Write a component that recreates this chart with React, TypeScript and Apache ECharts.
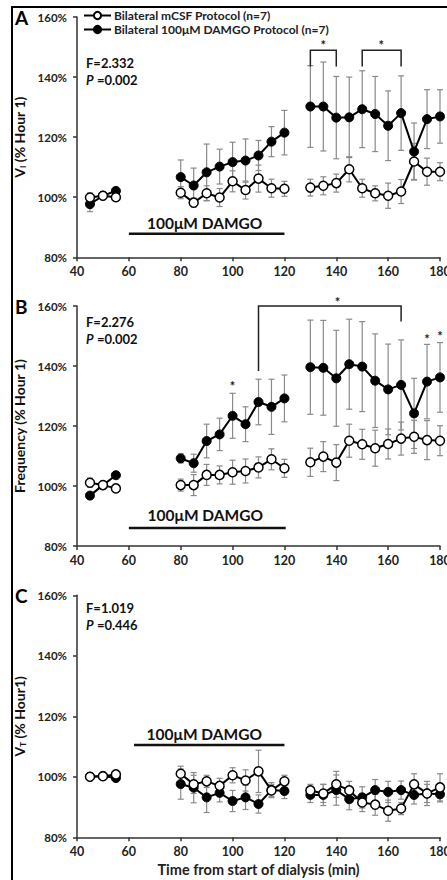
import React, { useEffect, useRef } from "react";
import * as echarts from "echarts";

const FONT = 'Lato, "Open Sans", sans-serif';

// time points (min)
const times = [45, 50, 55, 80, 85, 90, 95, 100, 105, 110, 115, 120, 130, 135, 140, 145, 150, 155, 160, 165, 170, 175, 180];

// Panel A: V_I
const aMcsf = [99.9, 100.5, 100, 101.5, 98.2, 101.3, 99.9, 105.3, 102.4, 106.2, 103, 102.8, 103.2, 103.8, 104.7, 109.3, 103, 101.3, 100.5, 101.9, 111.9, 108.5, 108.5];
const aMcsfErr = [1.5, 1, 1, 2, 1.5, 2.5, 3, 3.5, 3, 4.5, 3, 2.5, 2.8, 3, 3, 4.2, 3, 2.5, 4.2, 4, 6, 4.5, 3];
const aDamgo = [97.7, 100.5, 102.1, 106.7, 103.9, 108.3, 110.2, 111.7, 112.2, 113.9, 118.5, 121.5, 130.2, 130.2, 126.5, 126.6, 129.3, 127.7, 123.8, 128, 115.2, 126, 126.9];
const aDamgoErr = [2.5, 1, 1, 5.7, 5.8, 9.4, 5.8, 6.6, 7.2, 5, 5, 7.4, 13.6, 14.8, 13.7, 13.4, 12.8, 12.5, 11.6, 12.4, 9.5, 9.8, 8.9];

// Panel B: Frequency
const bMcsf = [101.1, 100.3, 99.2, 100.3, 100.3, 103.7, 103.7, 104.6, 105, 106.2, 108.9, 105.9, 107.9, 109.8, 107.8, 115.1, 113.9, 112.6, 114, 115.8, 116.4, 115.3, 115.1];
const bMcsfErr = [1.5, 1, 1, 2, 3.5, 3.5, 3, 4, 4, 3.5, 3.5, 3, 4.7, 5, 6, 5.5, 5, 6, 5, 5.5, 5.5, 6.5, 5];
const bDamgo = [96.8, 100.3, 103.6, 109.2, 107.6, 115, 117.2, 123.4, 120.6, 128, 126.4, 129.2, 139.6, 139.4, 135.9, 140.6, 139.8, 135.1, 132.2, 133.7, 124.2, 134.8, 136.2];
const bDamgoErr = [1, 1, 1, 1.5, 3, 5.6, 5.4, 7.5, 5.8, 7.6, 9.2, 7.8, 15.7, 15.8, 16, 15, 15, 15.6, 15.1, 15, 11.7, 12.4, 11.6];

// Panel C: V_T
const cMcsf = [100, 100.2, 100.8, 101, 97.5, 98.5, 97, 100.5, 98.8, 101.8, 95.5, 98.5, 95.5, 94.5, 97.5, 95.5, 91.5, 90.8, 88.8, 89.5, 97.5, 94.5, 96.5];
const cMcsfErr = [1, 0.8, 1, 2.5, 3, 2, 2.5, 2.5, 3.5, 7, 2, 2, 2, 3, 4.3, 3, 3, 3.5, 3.5, 2, 3.5, 3, 4.5];
const cDamgo = [100, 100.3, 99.6, 97.6, 96.4, 93.2, 94.7, 92, 93.2, 91, 95.6, 95.3, 94, 94, 95.6, 92.6, 93.2, 95.6, 95, 95.6, 94, 94.5, 94.2];
const cDamgoErr = [1, 1, 1, 5, 5, 5, 3, 3.5, 4, 3, 2.5, 2.5, 2.5, 3.5, 5, 3.5, 3.5, 3.5, 3.5, 3, 3, 4, 2.5];

// annotations: brackets [x1, x2, yTop, yLeftBottom, yRightBottom], stars [x, y]
const aBrackets = [[130, 140, 148.9, 143.5, 143.5], [150, 165, 148.9, 143.5, 143.5]];
const aStars = [[135, 151.8], [157.3, 151.8]];
const bBrackets = [[110, 165, 160, 138.3, 154.8]];
const bStars = [[140.5, 162.2], [100, 134.5], [175, 150.1], [180, 151]];
const cBrackets: number[][] = [];
const cStars: number[][] = [];

// DAMGO application bar: [xStart, xEnd, yLine, yText]
const aBar = [60, 120, 87.8, 91.5];
const bBar = [60, 120.5, 86, 90.3];
const cBar = [62, 120, 110.5, 114.1];

const statsF = ["F=2.332", "F=2.276", "F=1.019"];
const statsP = ["0.002", "0.002", "0.446"];

const yTicks = [80, 100, 120, 140, 160];
const xTicks = [40, 60, 80, 100, 120, 140, 160, 180];

const NAME_MCSF = "Bilateral mCSF Protocol (n=7)";
const NAME_DAMGO = "Bilateral 100\u03bcM DAMGO Protocol (n=7)";

function lineData(vals: number[]) {
  const out: any[] = [];
  times.forEach((t, i) => {
    if (i > 0 && t - times[i - 1] > 5) out.push([(t + times[i - 1]) / 2, null]);
    out.push([t, vals[i]]);
  });
  return out;
}

function errData(vals: number[], errs: number[]) {
  return times.map((t, i) => [t, vals[i], errs[i]]);
}

const panels = [
  { top: 17, height: 240.3, yName: "V{sub|I} (% Hour 1)", mcsf: aMcsf, mcsfErr: aMcsfErr, damgo: aDamgo, damgoErr: aDamgoErr, brackets: aBrackets, stars: aStars, bar: aBar, label: "A" },
  { top: 306, height: 240, yName: "Frequency (% Hour 1)", mcsf: bMcsf, mcsfErr: bMcsfErr, damgo: bDamgo, damgoErr: bDamgoErr, brackets: bBrackets, stars: bStars, bar: bBar, label: "B" },
  { top: 595.3, height: 242, yName: "V{sub|T} (% Hour1)", mcsf: cMcsf, mcsfErr: cMcsfErr, damgo: cDamgo, damgoErr: cDamgoErr, brackets: cBrackets, stars: cStars, bar: cBar, label: "C" },
];

function buildOption() {
  const grid: any[] = [];
  const xAxis: any[] = [];
  const yAxis: any[] = [];
  const series: any[] = [];
  const graphic: any[] = [];

  graphic.push({
    type: "rect",
    shape: { x: 12, y: 7, width: 460, height: 890 },
    style: { fill: "none", stroke: "#000", lineWidth: 2 },
    silent: true,
  });

  panels.forEach((p, k) => {
    grid.push({ left: 77, top: p.top, width: 363, height: p.height, outerBoundsMode: "none", containLabel: false });
    xAxis.push({
      type: "value",
      gridIndex: k,
      min: xTicks[0],
      max: xTicks[xTicks.length - 1],
      interval: 20,
      axisLine: { show: true, onZero: false, lineStyle: { color: "#333", width: 1.5 } },
      axisTick: { show: true, length: 4, lineStyle: { color: "#333", width: 1.5 } },
      axisLabel: { color: "#222", fontSize: 12.5, fontWeight: "bold", fontFamily: FONT, margin: 8, showMaxLabel: true },
      splitLine: { show: false },
      name: k === 2 ? "Time from start of dialysis (min)" : "",
      nameLocation: "middle",
      nameGap: 25,
      nameTextStyle: { color: "#222", fontSize: 14.5, fontWeight: "bold", fontFamily: FONT },
    });
    yAxis.push({
      type: "value",
      gridIndex: k,
      min: yTicks[0],
      max: yTicks[yTicks.length - 1],
      interval: 20,
      axisLine: { show: true, lineStyle: { color: "#333", width: 1.5 } },
      axisTick: { show: true, length: 4, lineStyle: { color: "#333", width: 1.5 } },
      axisLabel: { color: "#222", fontSize: 11.5, fontWeight: "bold", fontFamily: FONT, formatter: "{value}%", margin: 10 },
      splitLine: { show: false },
      name: p.yName,
      nameLocation: "middle",
      nameGap: 47,
      nameTextStyle: {
        color: "#111",
        fontSize: 14,
        fontWeight: "bold",
        fontFamily: FONT,
        rich: { sub: { fontSize: 8, fontWeight: "bold", fontFamily: FONT, color: "#111", verticalAlign: "bottom", padding: [6, 0, 0, 0] } },
      },
    });

    const errSeries = (vals: number[], errs: number[]) => ({
      type: "custom",
      xAxisIndex: k,
      yAxisIndex: k,
      z: 1,
      silent: true,
      data: errData(vals, errs),
      renderItem: (params: any, api: any) => {
        const x = api.value(0), y = api.value(1), e = api.value(2);
        const t = api.coord([x, y + e]);
        const b = api.coord([x, y - e]);
        const st = { stroke: "#8a8a8a", lineWidth: 1.2 };
        return {
          type: "group",
          children: [
            { type: "line", shape: { x1: t[0], y1: t[1], x2: b[0], y2: b[1] }, style: st },
            { type: "line", shape: { x1: t[0] - 3, y1: t[1], x2: t[0] + 3, y2: t[1] }, style: st },
            { type: "line", shape: { x1: b[0] - 3, y1: b[1], x2: b[0] + 3, y2: b[1] }, style: st },
          ],
        };
      },
    });
    series.push(errSeries(p.damgo, p.damgoErr));
    series.push(errSeries(p.mcsf, p.mcsfErr));

    series.push({
      name: NAME_DAMGO,
      type: "line",
      xAxisIndex: k,
      yAxisIndex: k,
      z: 3,
      data: lineData(p.damgo),
      connectNulls: false,
      symbol: "circle",
      symbolSize: 9,
      lineStyle: { color: "#000", width: 2 },
      itemStyle: { color: "#000", borderColor: "#000", borderWidth: 1 },
    });
    series.push({
      name: NAME_MCSF,
      type: "line",
      xAxisIndex: k,
      yAxisIndex: k,
      z: 4,
      data: lineData(p.mcsf),
      connectNulls: false,
      symbol: "circle",
      symbolSize: 9,
      lineStyle: { color: "#000", width: 2 },
      itemStyle: { color: "#fff", borderColor: "#000", borderWidth: 1.5 },
    });

    // DAMGO bar + label
    series.push({
      type: "custom",
      xAxisIndex: k,
      yAxisIndex: k,
      z: 2,
      silent: true,
      data: [p.bar],
      renderItem: (params: any, api: any) => {
        const s = api.coord([api.value(0), api.value(2)]);
        const e = api.coord([api.value(1), api.value(2)]);
        const tp = api.coord([(api.value(0) + api.value(1)) / 2, api.value(3)]);
        return {
          type: "group",
          children: [
            { type: "line", shape: { x1: s[0], y1: s[1], x2: e[0], y2: e[1] }, style: { stroke: "#111", lineWidth: 2.5 } },
            {
              type: "text",
              x: k === 2 ? tp[0] - 5 : tp[0] - 2,
              y: tp[1],
              style: { text: "100\u03bcM DAMGO", fill: "#111", font: `bold 15.5px ${FONT}`, textAlign: "center", textVerticalAlign: "middle" },
            },
          ],
        };
      },
    });

    // brackets
    if (p.brackets.length) {
      series.push({
        type: "custom",
        xAxisIndex: k,
        yAxisIndex: k,
        z: 2,
        silent: true,
        data: p.brackets,
        renderItem: (params: any, api: any) => {
          const l = api.coord([api.value(0), api.value(3)]);
          const tl = api.coord([api.value(0), api.value(2)]);
          const tr = api.coord([api.value(1), api.value(2)]);
          const r = api.coord([api.value(1), api.value(4)]);
          return {
            type: "polyline",
            shape: { points: [l, tl, tr, r] },
            style: { stroke: "#222", lineWidth: 1.5, fill: "none" },
          };
        },
      });
    }
    if (p.stars.length) {
      series.push({
        type: "custom",
        xAxisIndex: k,
        yAxisIndex: k,
        z: 2,
        silent: true,
        data: p.stars,
        renderItem: (params: any, api: any) => {
          const c = api.coord([api.value(0), api.value(1)]);
          return {
            type: "text",
            x: c[0],
            y: c[1] + 3,
            style: { text: "*", fill: "#222", font: `bold 13px ${FONT}`, textAlign: "center", textVerticalAlign: "middle" },
          };
        },
      });
    }

    // panel letter
    graphic.push({
      type: "text",
      left: 15,
      top: p.top - 9,
      style: { text: p.label, fill: "#000", font: `bold 19px ${FONT}` },
    });
    // stats
    graphic.push({
      type: "text",
      left: 86,
      top: p.top + (k === 0 ? 39 : k === 1 ? 9 : 6),
      style: {
        text: `{n|${statsF[k]}}\n{i|P} {n|=${statsP[k]}}`,
        rich: {
          n: { font: `bold 13px ${FONT}`, fill: "#111", lineHeight: 17 },
          i: { font: `italic bold 13px ${FONT}`, fill: "#111", lineHeight: 17 },
        },
      },
    });
  });

  return {
    animation: false,
    backgroundColor: "#fff",
    textStyle: { fontFamily: FONT },
    grid,
    xAxis,
    yAxis,
    legend: {
      data: [
        { name: NAME_MCSF },
        { name: NAME_DAMGO },
      ],
      orient: "vertical",
      left: 83,
      top: 9,
      padding: 0,
      itemWidth: 27,
      itemHeight: 9,
      itemGap: 1,
      selectedMode: false,
      textStyle: { color: "#222", fontSize: 12, fontWeight: "bold", fontFamily: FONT, padding: [0, 0, 0, -2], lineHeight: 13 },
    },
    graphic,
    series,
  };
}

export default function App() {
  const ref = useRef<HTMLDivElement>(null);
  useEffect(() => {
    document.body.style.margin = "0";
    const chart = echarts.init(ref.current as HTMLDivElement, null, { renderer: "svg" });
    chart.setOption(buildOption() as any);
    return () => chart.dispose();
  }, []);
  return <div ref={ref} style={{ width: 447, height: 880 }} />;
}
